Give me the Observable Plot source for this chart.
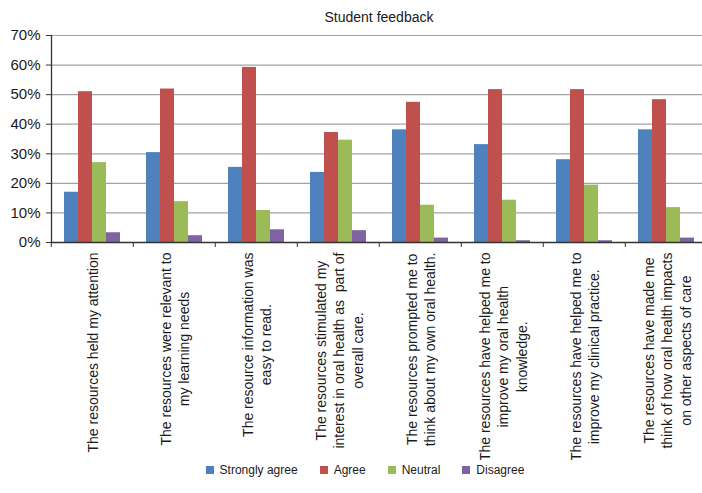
<!DOCTYPE html>
<html>
<head>
<meta charset="utf-8">
<script src="https://cdn.jsdelivr.net/npm/d3@7"></script>
<script src="https://cdn.jsdelivr.net/npm/@observablehq/plot@0.6"></script>
<style>
  html, body { margin: 0; padding: 0; background: #fff; overflow: hidden; }
  body { width: 702px; font-family: "Liberation Sans", Arial, sans-serif; color: #1a1a1a; }
  #title { height: 27px; line-height: 34px; font-size: 14px; text-align: center; padding-left: 56px; box-sizing: border-box; overflow: visible; }
  #legend { height: 20px; display: flex; justify-content: center; align-items: center; padding-left: 28px; box-sizing: border-box; font-size: 12px; }
  #legend .item { display: flex; align-items: center; margin: 0 11px; }
  #legend .sw { width: 8px; height: 8px; margin-right: 6px; }
  #chart text { white-space: pre; }
</style>
</head>
<body>
<div id="title">Student feedback</div>
<div id="chart"></div>
<div id="legend"></div>
<script>
const categories = [
  "The resources held my attention",
  "The resources were relevant to\nmy learning needs",
  "The resource information was\neasy to read.",
  "The resources stimulated my\ninterest in oral health as  part of\noverall care.",
  "The resources prompted me to\nthink about my own oral health.",
  "The resources have helped me to\nimprove my oral health\nknowledge.",
  "The resources have helped me to\nimprove my clinical practice.",
  "The resources have made me\nthink of how oral health impacts\non other aspects of care"
];
const seriesNames = ["Strongly agree", "Agree", "Neutral", "Disagree"];
const seriesColors = ["#4F81BD", "#C0504D", "#9BBB59", "#8064A2"];
const stronglyAgree = [17.0, 30.4, 25.4, 23.7, 38.1, 33.1, 28.0, 38.1];
const agree         = [51.0, 51.9, 59.2, 37.2, 47.4, 51.7, 51.7, 48.3];
const neutral       = [27.0, 13.8, 10.8, 34.6, 12.6, 14.3, 19.4, 11.8];
const disagree      = [3.3, 2.3, 4.3, 4.0, 1.5, 0.6, 0.6, 1.5];
const yTicks = [0, 10, 20, 30, 40, 50, 60, 70];

const seriesValues = [stronglyAgree, agree, neutral, disagree];
const data = [];
categories.forEach((c, i) => {
  seriesNames.forEach((s, j) => data.push({cat: c, series: s, value: seriesValues[j][i]}));
});

const width = 702, marginLeft = 49, marginRight = -7;
const step = (width - marginLeft - marginRight) / categories.length;
const axisColor = "#333";

const chart = Plot.plot({
  width,
  height: 433,
  marginTop: 8,
  marginBottom: 218,
  marginLeft,
  marginRight,
  style: {fontFamily: "'Liberation Sans', Arial, sans-serif", fontSize: "14px", color: "#1a1a1a", background: "#fff"},
  fx: {domain: categories, padding: 0},
  x: {domain: seriesNames, paddingInner: 0, paddingOuter: 0.77, axis: null},
  y: {domain: [0, 70]},
  color: {domain: seriesNames, range: seriesColors},
  marks: [
    Plot.gridY(yTicks, {stroke: "#a3a3a3", strokeOpacity: 1, strokeWidth: 1.2}),
    Plot.barY(data, {fx: "cat", x: "series", y: "value", fill: "series"}),
    Plot.ruleY([0], {stroke: axisColor, strokeWidth: 1.3}),
    Plot.frame({anchor: "left", facetAnchor: "left", stroke: axisColor, strokeWidth: 1.3}),
    Plot.axisY(yTicks, {tickSize: 5, tickPadding: 6, fontSize: 15, tickFormat: d => d + "%", label: null, stroke: axisColor}),
    Plot.axisFx({anchor: "bottom", fill: "none", stroke: axisColor, tickSize: 5, dx: -step / 2, label: null}),
    Plot.axisFx({anchor: "bottom", tickSize: 0, tickPadding: 10, tickRotate: -90, fontSize: 14, lineHeight: 1.3, label: null})
  ]
});
document.getElementById("chart").appendChild(chart);

// center shorter lines of each multi-line category label against the longest line
chart.querySelectorAll("text").forEach(t => {
  const spans = t.querySelectorAll("tspan");
  if (spans.length > 1 && t.getAttribute("transform") && t.getAttribute("transform").includes("rotate")) {
    const lens = Array.from(spans, s => s.getComputedTextLength());
    const max = Math.max(...lens);
    spans.forEach((s, k) => s.setAttribute("dx", -(max - lens[k]) / 2));
  }
});

const legend = document.getElementById("legend");
seriesNames.forEach((s, j) => {
  const item = document.createElement("div");
  item.className = "item";
  const sw = document.createElement("div");
  sw.className = "sw";
  sw.style.background = seriesColors[j];
  const lab = document.createElement("span");
  lab.textContent = s;
  item.appendChild(sw);
  item.appendChild(lab);
  legend.appendChild(item);
});
</script>
</body>
</html>
